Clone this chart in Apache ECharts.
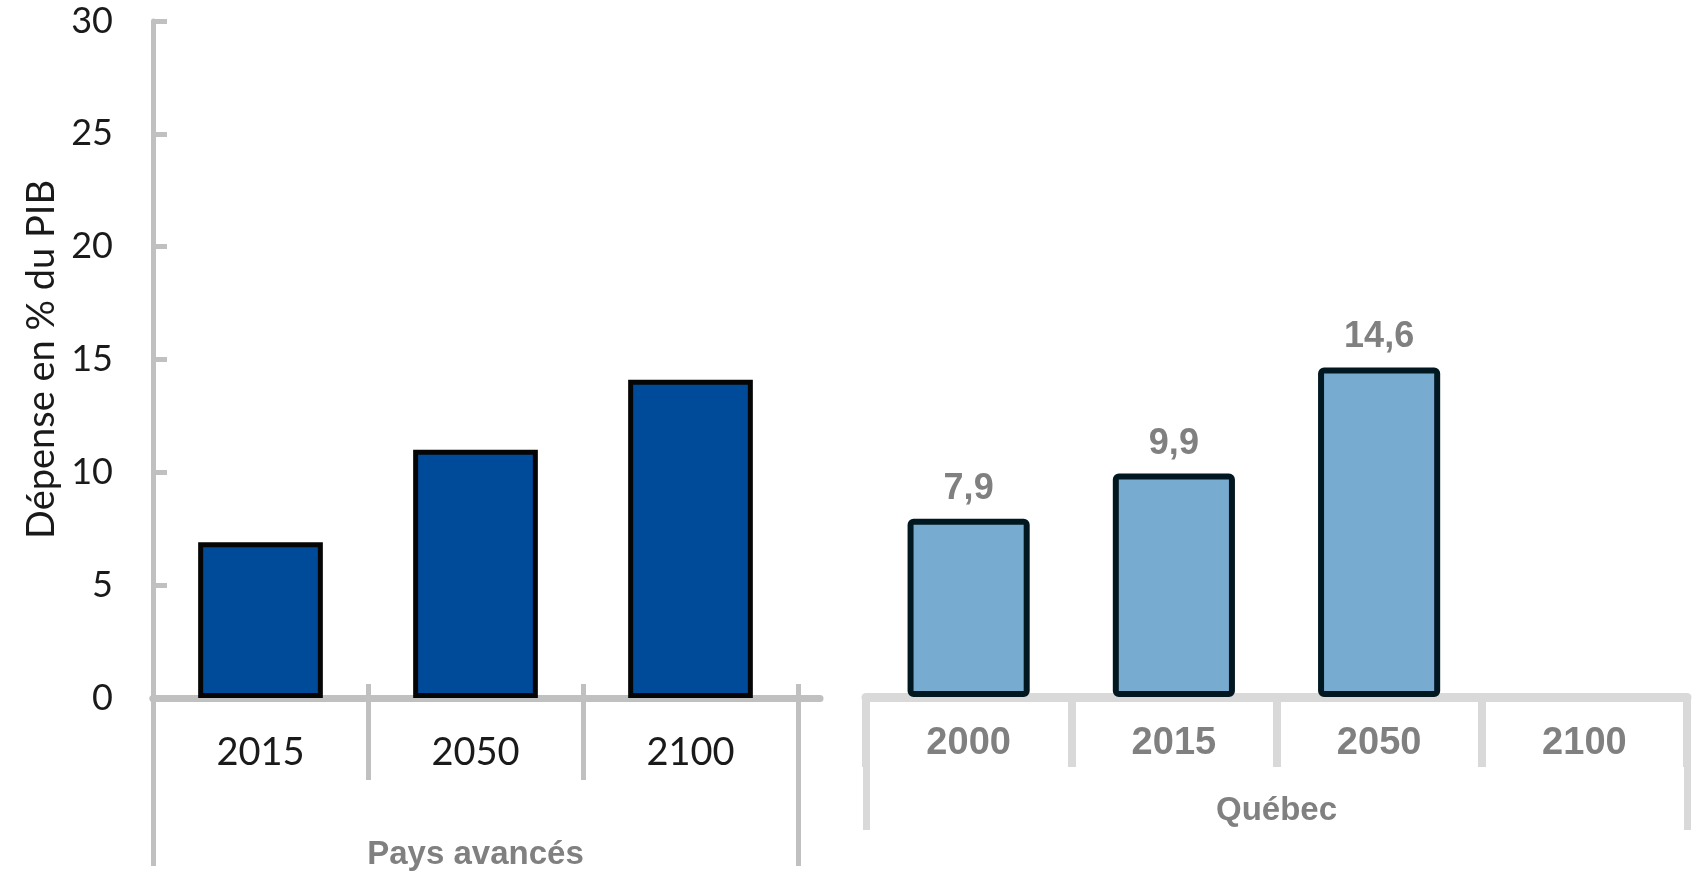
<!DOCTYPE html>
<html>
<head>
<meta charset="utf-8">
<script src="https://cdn.jsdelivr.net/npm/echarts@6/dist/echarts.min.js"></script>
<style>
html,body{margin:0;padding:0;background:#fff;}
#chart{width:1698px;height:874px;}
</style>
</head>
<body>
<div id="chart"></div>
<script>
// ---- data ----
const paysCategories = ['2015', '2050', '2100'];
const paysValues = [6.9, 11.0, 14.1];
const quebecCategories = ['2000', '2015', '2050', '2100'];
const quebecValues = [7.9, 9.9, 14.6, null];
const groupPays = ['Pays avancés'];
const groupQuebec = ['Québec'];
const yAxisTitle = 'Dépense en % du PIB';
const yMin = 0, yMax = 30, yStep = 5;

const chart = echarts.init(document.getElementById('chart'));
const numFont = 'Lato, "Open Sans", sans-serif';
const boldFont = '"Liberation Sans", Arial, sans-serif';

const option = {
  animation: false,
  backgroundColor: '#ffffff',
  grid: [
    { left: 153, right: 900, top: 21, bottom: 176, containLabel: false },
    { left: 866, right: 11, top: 20, bottom: 177, containLabel: false },
    { left: 153, right: 878, top: 21, bottom: 176, containLabel: false }
  ],
  xAxis: [
    { // left main categories
      gridIndex: 0, type: 'category', data: paysCategories, position: 'bottom',
      axisLine: { show: true, onZero: false, lineStyle: { color: '#c0c0c0', width: 7 } },
      axisTick: { show: true, interval: 0, length: 82, lineStyle: { color: '#c0c0c0', width: 5 } },
      axisLabel: { interval: 0, margin: 36, fontFamily: numFont, fontSize: 38, color: '#1a1a1a' }
    },
    { // left tick stubs above baseline
      gridIndex: 0, type: 'category', data: paysCategories, position: 'bottom',
      axisLine: { show: false },
      axisTick: { show: true, inside: true, interval: 0, length: 14, lineStyle: { color: '#c0c0c0', width: 5 } },
      axisLabel: { show: false }
    },
    { // left group label
      gridIndex: 0, type: 'category', data: groupPays, position: 'bottom',
      axisLine: { show: false },
      axisTick: { show: true, interval: 0, length: 168, lineStyle: { color: '#c0c0c0', width: 5 } },
      axisLabel: { interval: 0, margin: 140, fontFamily: boldFont, fontWeight: 'bold', fontSize: 33, color: '#808080' }
    },
    { // right main categories
      gridIndex: 1, type: 'category', data: quebecCategories, position: 'bottom',
      axisLine: { show: true, onZero: false, lineStyle: { color: '#d9d9d9', width: 9 } },
      axisTick: { show: true, interval: 0, length: 70, lineStyle: { color: '#d9d9d9', width: 8 } },
      axisLabel: { interval: 0, margin: 28, fontFamily: boldFont, fontWeight: 'bold', fontSize: 38, color: '#808080' }
    },
    { // right group label
      gridIndex: 1, type: 'category', data: groupQuebec, position: 'bottom',
      axisLine: { show: false },
      axisTick: { show: true, interval: 0, length: 133, lineStyle: { color: '#d9d9d9', width: 7 } },
      axisLabel: { interval: 0, margin: 97, fontFamily: boldFont, fontWeight: 'bold', fontSize: 33, color: '#808080' }
    },
    { // left baseline extension beyond last category
      gridIndex: 2, type: 'category', data: [''], position: 'bottom',
      axisLine: { show: true, onZero: false, lineStyle: { color: '#c0c0c0', width: 7 } },
      axisTick: { show: false }, axisLabel: { show: false }
    }
  ],
  yAxis: [
    {
      gridIndex: 0, type: 'value', min: yMin, max: yMax, interval: yStep,
      name: yAxisTitle, nameLocation: 'middle', nameGap: 92, nameRotate: 90,
      nameTextStyle: { fontFamily: numFont, fontSize: 38, color: '#1a1a1a' },
      axisLine: { show: true, lineStyle: { color: '#c0c0c0', width: 5 } },
      axisTick: { show: true, inside: true, length: 14, lineStyle: { color: '#c0c0c0', width: 5 } },
      axisLabel: { margin: 40, fontFamily: numFont, fontSize: 36, color: '#1a1a1a' },
      splitLine: { show: false }
    },
    {
      gridIndex: 1, type: 'value', min: yMin, max: yMax, interval: yStep, show: false,
      splitLine: { show: false }
    },
    {
      gridIndex: 2, type: 'value', min: yMin, max: yMax, interval: yStep, show: false,
      splitLine: { show: false }
    }
  ],
  series: [
    {
      type: 'bar', xAxisIndex: 0, yAxisIndex: 0, data: paysValues,
      barWidth: '58%', z: 3,
      itemStyle: { color: '#004b99', borderColor: '#050505', borderWidth: 5 }
    },
    {
      type: 'bar', xAxisIndex: 3, yAxisIndex: 1, data: quebecValues,
      barWidth: '59.5%', z: 3,
      itemStyle: { color: '#77acd0', borderColor: '#021820', borderWidth: 6, borderRadius: 3 },
      label: {
        show: true, position: 'top', distance: 12,
        fontFamily: boldFont, fontWeight: 'bold', fontSize: 36, color: '#808080',
        formatter: p => (p.value == null ? '' : String(p.value.toFixed(1)).replace('.', ','))
      }
    }
  ]
};
chart.setOption(option);
</script>
</body>
</html>
